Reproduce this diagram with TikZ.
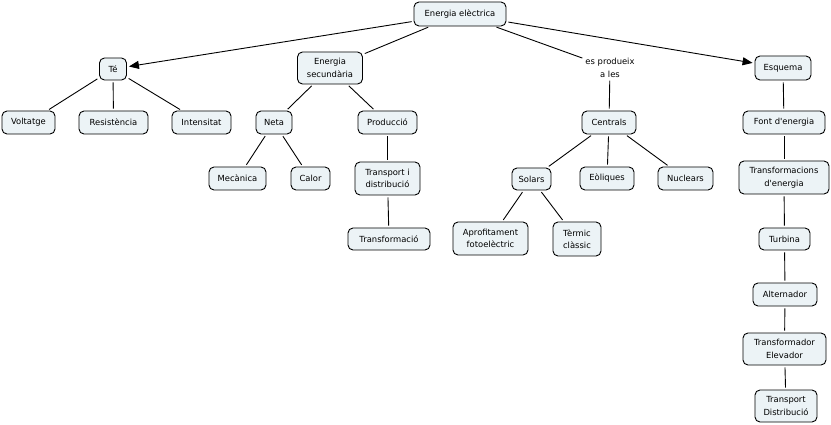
\documentclass[tikz,border=0pt]{standalone}
\usepackage{fontspec}
\setmainfont{DejaVu Sans}
\usetikzlibrary{arrows.meta}
\definecolor{boxfill}{RGB}{236,243,246}
\tikzset{
  box/.style={draw=black, fill=boxfill, rounded corners=5pt, line width=0.9pt, align=center,
    font=\fontsize{8.4}{12.5}\selectfont, inner sep=2pt},
  lab/.style={align=center, font=\fontsize{8.4}{12.5}\selectfont, inner sep=1pt},
  link/.style={draw=black, line width=0.9pt, shorten >=2pt, shorten <=2pt},
  arr/.style={link, -{Triangle[length=10pt,width=8pt]}}
}
\begin{document}
\begin{tikzpicture}[x=1pt,y=-1pt]
\useasboundingbox (0,0) rectangle (831,425);
% nodes
\node[box, minimum width=92pt, minimum height=24pt] (ee) at (460,14) {Energia elèctrica};
\node[box, minimum width=27pt, minimum height=22pt] (te) at (113,69) {Té};
\node[box, minimum width=65pt, minimum height=32pt] (es) at (330,68) {Energia\\secundària};
\node[lab] (pr) at (610,68) {es produeix\\a les};
\node[box, minimum width=56pt, minimum height=24pt] (esq) at (783,68) {Esquema};
\node[box, minimum width=53pt, minimum height=23pt] (vol) at (28.5,122.5) {Voltatge};
\node[box, minimum width=69pt, minimum height=23pt] (res) at (113.5,122.5) {Resistència};
\node[box, minimum width=59pt, minimum height=23pt] (int) at (201.5,122.5) {Intensitat};
\node[box, minimum width=36pt, minimum height=23pt] (net) at (274,122.5) {Neta};
\node[box, minimum width=59pt, minimum height=23pt] (prd) at (387.5,122.5) {Producció};
\node[box, minimum width=54pt, minimum height=23pt] (cen) at (609,122.5) {Centrals};
\node[box, minimum width=82pt, minimum height=23pt] (fon) at (784,122.5) {Font d\textquotesingle energia};
\node[box, minimum width=57pt, minimum height=23pt] (mec) at (237.5,178.5) {Mecànica};
\node[box, minimum width=39pt, minimum height=23pt] (cal) at (310.5,178.5) {Calor};
\node[box, minimum width=65pt, minimum height=33pt] (tid) at (387.5,178.5) {Transport i\\distribució};
\node[box, minimum width=39pt, minimum height=22pt] (sol) at (531.5,179) {Solars};
\node[box, minimum width=54pt, minimum height=23pt] (eol) at (607,178.5) {Eòliques};
\node[box, minimum width=55pt, minimum height=23pt] (nuc) at (685.5,178.5) {Nuclears};
\node[box, minimum width=90pt, minimum height=33pt] (tfe) at (784,177.5) {Transformacions\\d\textquotesingle energia};
\node[box, minimum width=82pt, minimum height=22pt] (tfm) at (389,239) {Transformació};
\node[box, minimum width=75pt, minimum height=33pt] (apr) at (490.5,238.5) {Aprofitament\\fotoelèctric};
\node[box, minimum width=48pt, minimum height=34pt] (ter) at (577,239) {Tèrmic\\clàssic};
\node[box, minimum width=51pt, minimum height=22pt] (tur) at (784.5,239) {Turbina};
\node[box, minimum width=64pt, minimum height=23pt] (alt) at (785,294.5) {Alternador};
\node[box, minimum width=83pt, minimum height=32pt] (tel) at (784.5,349) {Transformador\\Elevador};
\node[box, minimum width=62pt, minimum height=32pt] (tdi) at (786,406) {Transport\\Distribució};
% connectors
\draw[arr] (ee) -- (te);
\draw[arr] (ee) -- (esq);
\draw[link] (ee) -- (es);
\draw[link] (ee) -- (pr);
\draw[link] (pr) -- (cen);
\draw[link] (te) -- (vol);
\draw[link] (te) -- (res);
\draw[link] (te) -- (int);
\draw[link] (es) -- (net);
\draw[link] (es) -- (prd);
\draw[link] (net) -- (mec);
\draw[link] (net) -- (cal);
\draw[link] (prd) -- (tid);
\draw[link] (tid) -- (tfm);
\draw[link] (cen) -- (sol);
\draw[link] (cen) -- (eol);
\draw[link] (cen) -- (nuc);
\draw[link] (sol) -- (apr);
\draw[link] (sol) -- (ter);
\draw[link] (esq) -- (fon);
\draw[link] (fon) -- (tfe);
\draw[link] (tfe) -- (tur);
\draw[link] (tur) -- (alt);
\draw[link] (alt) -- (tel);
\draw[link] (tel) -- (tdi);
\end{tikzpicture}
\end{document}
